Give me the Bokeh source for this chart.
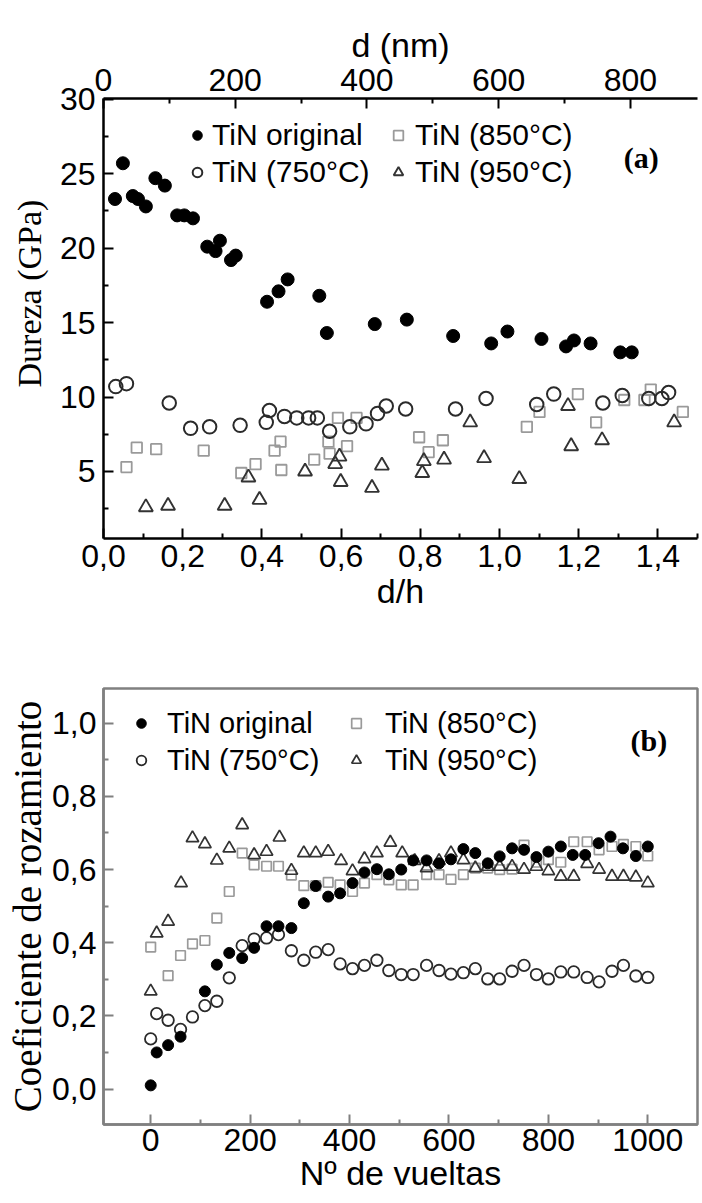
from bokeh.plotting import figure
from bokeh.models import (Range1d, LinearAxis, FixedTicker, CustomJSTickFormatter,
                          Legend, LegendItem, Label, Title)
from bokeh.layouts import column
from bokeh.embed import file_html
from bokeh.resources import INLINE

# ---------------- Panel (a): Dureza vs d/h ----------------
a_orig_x = [0.029, 0.049, 0.074, 0.087, 0.107, 0.131, 0.155, 0.186, 0.204, 0.226, 0.262, 0.283,
            0.294, 0.322, 0.334, 0.413, 0.442, 0.465, 0.545, 0.564, 0.685, 0.766, 0.883, 0.979,
            1.020, 1.106, 1.168, 1.188, 1.230, 1.305, 1.334]
a_orig_y = [23.3, 25.7, 23.5, 23.3, 22.8, 24.7, 24.2, 22.2, 22.2, 22.0, 20.1, 19.8,
            20.5, 19.2, 19.5, 16.4, 17.1, 17.9, 16.8, 14.3, 14.9, 15.2, 14.1, 13.6,
            14.4, 13.9, 13.4, 13.8, 13.6, 13.0, 13.0]

a_750_x = [0.031, 0.058, 0.166, 0.220, 0.268, 0.345, 0.411, 0.419, 0.457, 0.488, 0.518, 0.540,
           0.571, 0.622, 0.663, 0.692, 0.714, 0.763, 0.889, 0.966, 1.094, 1.137, 1.261, 1.310,
           1.377, 1.410, 1.427]
a_750_y = [10.7, 10.9, 9.6, 7.9, 8.0, 8.1, 8.3, 9.1, 8.7, 8.6, 8.6, 8.6,
           7.7, 8.0, 8.2, 8.9, 9.4, 9.2, 9.2, 9.9, 9.5, 10.2, 9.6, 10.1,
           9.9, 9.9, 10.3]

a_850_x = [0.058, 0.084, 0.133, 0.253, 0.348, 0.384, 0.432, 0.447, 0.449, 0.532, 0.568, 0.571,
           0.592, 0.615, 0.639, 0.797, 0.821, 0.857, 1.069, 1.101, 1.198, 1.244, 1.315, 1.366,
           1.382, 1.463]
a_850_y = [5.3, 6.6, 6.5, 6.4, 4.9, 5.5, 6.4, 7.0, 5.1, 5.8, 7.0, 6.2,
           8.6, 6.7, 8.6, 7.3, 6.3, 7.1, 8.0, 9.0, 10.2, 8.3, 9.8, 9.8,
           10.5, 9.0]

a_950_x = [0.107, 0.163, 0.306, 0.366, 0.394, 0.509, 0.585, 0.596, 0.599, 0.678, 0.703, 0.805,
           0.809, 0.860, 0.926, 0.961, 1.050, 1.173, 1.181, 1.259, 1.441]
a_950_y = [2.6, 2.7, 2.7, 4.6, 3.1, 5.0, 5.5, 6.0, 4.3, 3.9, 5.4, 4.9,
           5.7, 5.8, 8.3, 5.9, 4.5, 9.4, 6.7, 7.1, 8.3]

a_xticks = [0.0, 0.2, 0.4, 0.6, 0.8, 1.0, 1.2, 1.4]
a_xminor = [0.1, 0.3, 0.5, 0.7, 0.9, 1.1, 1.3, 1.5]
a_yticks = [5, 10, 15, 20, 25, 30]
a_yminor = [2.5, 7.5, 12.5, 17.5, 22.5, 27.5]
a_nmticks = [0, 200, 400, 600, 800]
a_nmminor = [100, 300, 500, 700]

# ---------------- Panel (b): Coeficiente de rozamiento vs vueltas ----------------
b_orig_x = [0, 12, 35, 60, 109, 133, 158, 184, 208, 233, 257, 283, 308, 332, 357, 381, 406, 430,
            455, 479, 504, 528, 555, 580, 604, 629, 653, 678, 702, 727, 751, 776, 800, 825, 849,
            874, 901, 925, 950, 976, 1000]
b_orig_y = [0.01, 0.10, 0.12, 0.143, 0.267, 0.340, 0.372, 0.358, 0.386, 0.445, 0.445, 0.440,
            0.508, 0.555, 0.526, 0.535, 0.563, 0.592, 0.601, 0.587, 0.600, 0.625, 0.625, 0.617,
            0.628, 0.656, 0.645, 0.617, 0.636, 0.658, 0.654, 0.634, 0.649, 0.663, 0.640, 0.640,
            0.672, 0.690, 0.658, 0.637, 0.663]

b_750_x = [0, 12, 35, 60, 84, 109, 133, 158, 184, 208, 233, 257, 283, 308, 332, 357, 381, 406,
           430, 455, 479, 504, 528, 555, 580, 604, 629, 653, 678, 702, 727, 751, 776, 800, 825,
           851, 878, 902, 928, 951, 976, 1000]
b_750_y = [0.137, 0.206, 0.188, 0.163, 0.197, 0.228, 0.240, 0.304, 0.392, 0.410, 0.413, 0.422,
           0.378, 0.352, 0.374, 0.381, 0.342, 0.329, 0.338, 0.352, 0.324, 0.313, 0.313, 0.338,
           0.324, 0.314, 0.318, 0.329, 0.301, 0.301, 0.322, 0.338, 0.313, 0.301, 0.320, 0.320,
           0.305, 0.293, 0.322, 0.338, 0.309, 0.305]

b_850_x = [0, 35, 60, 84, 109, 133, 158, 184, 208, 233, 257, 283, 308, 332, 357, 381, 406, 430,
           455, 479, 504, 528, 555, 580, 604, 629, 653, 678, 702, 727, 751, 776, 800, 825, 851,
           878, 902, 928, 951, 976, 1000]
b_850_y = [0.388, 0.310, 0.365, 0.397, 0.406, 0.467, 0.540, 0.645, 0.613, 0.609, 0.609, 0.585,
           0.556, 0.556, 0.565, 0.558, 0.540, 0.563, 0.586, 0.572, 0.558, 0.558, 0.586, 0.586,
           0.573, 0.586, 0.604, 0.604, 0.600, 0.601, 0.667, 0.620, 0.627, 0.620, 0.676, 0.676,
           0.654, 0.663, 0.669, 0.663, 0.637]

b_950_x = [0, 12, 35, 61, 84, 109, 133, 158, 184, 208, 233, 259, 283, 308, 332, 357, 383, 406,
           430, 455, 482, 506, 531, 555, 580, 604, 629, 653, 678, 702, 727, 751, 776, 800, 825,
           851, 878, 902, 928, 951, 976, 1000]
b_950_y = [0.267, 0.426, 0.458, 0.563, 0.686, 0.670, 0.625, 0.658, 0.722, 0.640, 0.649, 0.688,
           0.597, 0.645, 0.645, 0.649, 0.624, 0.596, 0.629, 0.645, 0.674, 0.645, 0.624, 0.604,
           0.624, 0.645, 0.626, 0.604, 0.608, 0.608, 0.608, 0.600, 0.608, 0.596, 0.581, 0.581,
           0.616, 0.600, 0.581, 0.581, 0.579, 0.563]

b_xticks = [0, 200, 400, 600, 800, 1000]
b_xminor = [100, 300, 500, 700, 900]
b_yticks = [0.0, 0.2, 0.4, 0.6, 0.8, 1.0]
b_yminor = [0.1, 0.3, 0.5, 0.7, 0.9]

series_labels = ["TiN original", "TiN (750°C)", "TiN (850°C)", "TiN (950°C)"]

SANS = "Liberation Sans"
SERIF = "Liberation Serif"
comma_fmt = CustomJSTickFormatter(code="return tick.toFixed(1).replace('.', ',');")


def style_axis(ax, color, tick_px="32px", standoff=8):
    ax.axis_line_width = 2.5
    ax.axis_line_color = color
    ax.major_tick_in = 10
    ax.major_tick_out = 0
    ax.minor_tick_in = 5
    ax.minor_tick_out = 0
    ax.major_tick_line_color = color
    ax.minor_tick_line_color = color
    ax.major_tick_line_width = 2
    ax.minor_tick_line_width = 2
    ax.major_label_text_font = SANS
    ax.major_label_text_font_size = tick_px
    ax.major_label_text_color = "black"
    ax.major_label_standoff = standoff
    ax.axis_label_text_font_style = "normal"
    ax.axis_label_text_color = "black"


def add_legends(p, rends, labels, locs, font_px, standoffs):
    for (r1, r2), (l1, l2), loc, so in zip(rends, labels, locs, standoffs):
        leg = Legend(items=[LegendItem(label=l1, renderers=[r1]),
                            LegendItem(label=l2, renderers=[r2])],
                     location=loc, orientation="vertical", padding=0, margin=0,
                     spacing=3, label_standoff=so, glyph_width=24, glyph_height=34,
                     label_height=34, label_text_font=SANS, label_text_font_size=font_px,
                     label_text_color="black", border_line_color=None,
                     background_fill_alpha=0)
        p.add_layout(leg)


# ---------- figure (a) ----------
pa = figure(width=702, height=621, x_range=Range1d(0, 1.5), y_range=Range1d(0.5, 30.05),
            output_backend="svg", toolbar_location=None,
            min_border_left=101, min_border_right=0, min_border_top=98, min_border_bottom=83)
pa.extra_x_ranges = {"nm": Range1d(0, 1.5 * 601.3)}
pa.grid.visible = False
pa.outline_line_color = None
pa.background_fill_color = "white"
pa.border_fill_color = "white"

xa = pa.xaxis[0]
xa.ticker = FixedTicker(ticks=a_xticks, minor_ticks=a_xminor)
xa.formatter = comma_fmt
xa.axis_label = "d/h"
xa.axis_label_text_font = SANS
xa.axis_label_text_font_size = "34px"
xa.axis_label_standoff = 2
style_axis(xa, "black", standoff=6)

ya = pa.yaxis[0]
ya.ticker = FixedTicker(ticks=a_yticks, minor_ticks=a_yminor)
style_axis(ya, "black", standoff=8)

top = LinearAxis(x_range_name="nm", axis_label="d (nm)",
                 ticker=FixedTicker(ticks=a_nmticks, minor_ticks=a_nmminor))
top.axis_label_text_font = SANS
top.axis_label_text_font_size = "34px"
top.axis_label_standoff = 2
style_axis(top, "black", standoff=8)
pa.add_layout(top, "above")

# y-axis title of (a): a side title, sitting above the frame centre like the original
pa.add_layout(Title(text="Dureza (GPa)", text_font=SERIF, text_font_size="34px",
                    text_font_style="normal", text_color="black", align="left",
                    offset=151, standoff=17), "left")

ra_850 = pa.scatter(a_850_x, a_850_y, marker="square", size=10.5, fill_color=None,
                    line_color="#9a9a9a", line_width=1.8)
ra_950 = pa.scatter(a_950_x, a_950_y, marker="triangle", size=14, fill_color=None,
                    line_color="#333333", line_width=1.9)
ra_750 = pa.scatter(a_750_x, a_750_y, marker="circle", size=13.5, fill_color=None,
                    line_color="#2a2a2a", line_width=2)
ra_orig = pa.scatter(a_orig_x, a_orig_y, marker="circle", size=13, fill_color="black",
                     line_color="black")

add_legends(pa, [(ra_orig, ra_750), (ra_850, ra_950)],
            [(series_labels[0], series_labels[1]), (series_labels[2], series_labels[3])],
            [(82, 349), (283, 349)], "30px", [3, 5])

pa.add_layout(Label(x=1.358, y=26.1, text="(a)", text_font=SERIF, text_font_style="bold",
                    text_font_size="30px", text_align="center", text_baseline="middle",
                    text_color="black"))

# ---------- figure (b) ----------
GRAY = "#808080"
pb = figure(width=702, height=581, x_range=Range1d(-95, 1100), y_range=Range1d(-0.097, 1.095),
            output_backend="svg", toolbar_location=None,
            min_border_left=100, min_border_right=5, min_border_top=67, min_border_bottom=78)
pb.grid.visible = False
pb.outline_line_color = GRAY
pb.outline_line_width = 2.5
pb.background_fill_color = "white"
pb.border_fill_color = "white"

xb = pb.xaxis[0]
xb.ticker = FixedTicker(ticks=b_xticks, minor_ticks=b_xminor)
xb.axis_label = "Nº de vueltas"
xb.axis_label_text_font = SANS
xb.axis_label_text_font_size = "34px"
xb.axis_label_standoff = 0
style_axis(xb, GRAY, standoff=4)

yb = pb.yaxis[0]
yb.ticker = FixedTicker(ticks=b_yticks, minor_ticks=b_yminor)
yb.formatter = comma_fmt
yb.axis_label = "Coeficiente de rozamiento"
yb.axis_label_text_font = SERIF
yb.axis_label_text_font_size = "39px"
yb.axis_label_standoff = 0
style_axis(yb, GRAY, standoff=7)

rb_850 = pb.scatter(b_850_x, b_850_y, marker="square", size=9.5, fill_color=None,
                    line_color="#9a9a9a", line_width=1.7)
rb_950 = pb.scatter(b_950_x, b_950_y, marker="triangle", size=12.5, fill_color=None,
                    line_color="#333333", line_width=1.7)
rb_750 = pb.scatter(b_750_x, b_750_y, marker="circle", size=11.5, fill_color=None,
                    line_color="#2a2a2a", line_width=1.8)
rb_orig = pb.scatter(b_orig_x, b_orig_y, marker="circle", size=11, fill_color="black",
                     line_color="black")

add_legends(pb, [(rb_orig, rb_750), (rb_850, rb_950)],
            [(series_labels[0], series_labels[1]), (series_labels[2], series_labels[3])],
            [(26, 347), (241, 347)], "29px", [14, 17])

pb.add_layout(Label(x=1002, y=0.953, text="(b)", text_font=SERIF, text_font_style="bold",
                    text_font_size="30px", text_align="center", text_baseline="middle",
                    text_color="black"))

layout = column(pa, pb)
open("out.html", "w").write(file_html(layout, INLINE))
